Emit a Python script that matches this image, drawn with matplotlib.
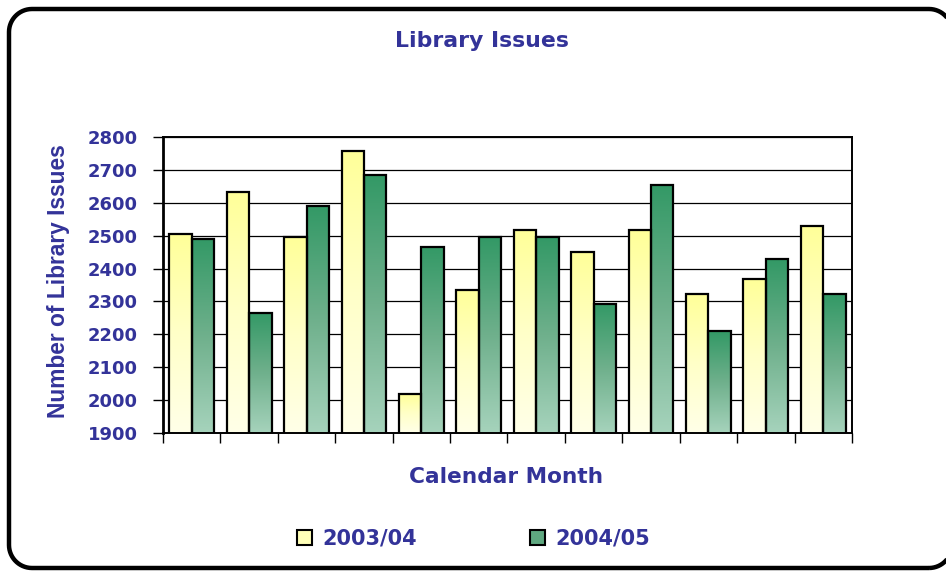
import matplotlib
matplotlib.use("Agg")
import matplotlib.pyplot as plt
import numpy as np
from matplotlib.colors import LinearSegmentedColormap
from matplotlib.patches import Polygon, Patch
from matplotlib.transforms import IdentityTransform

months = ["Apr", "May", "Jun", "Jul", "Aug", "Sep", "Oct", "Nov", "Dec", "Jan", "Feb", "Mar"]
issues_0304 = [2505, 2632, 2495, 2758, 2018, 2336, 2516, 2450, 2516, 2322, 2367, 2528]
issues_0405 = [2490, 2265, 2589, 2683, 2467, 2495, 2495, 2293, 2655, 2209, 2428, 2322]
series_names = ["2003/04", "2004/05"]
yticks = list(range(1900, 2801, 100))

navy = "#333399"
yellow_cm = LinearSegmentedColormap.from_list("yel", ["#FFFFE8", "#FFFFC8", "#FFFF99"])
green_cm = LinearSegmentedColormap.from_list("grn", ["#A6D3BC", "#6FB08C", "#339966"])

fig = plt.figure(figsize=(9.46, 5.72), dpi=100)


def rounded_box(x0, y0, x1, y1, r, n=16):
    # polyline rounded rectangle (pixel coords), straight segments clip cleanly
    pts = []
    corners = [(x1 - r, y0 + r, -90, 0), (x1 - r, y1 - r, 0, 90),
               (x0 + r, y1 - r, 90, 180), (x0 + r, y0 + r, 180, 270)]
    for cx, cy, a0, a1 in corners:
        t = np.radians(np.linspace(a0, a1, n))
        pts += list(zip(cx + r * np.cos(t), cy + r * np.sin(t)))
    return np.array(pts)


# outer frame; the right side runs off the canvas like the original
frame = Polygon(rounded_box(9, 4, 952, 563, 23), closed=True, fill=False, lw=3.2,
                ec="black", transform=IdentityTransform(), joinstyle="round")
fig.add_artist(frame)

ax = fig.add_axes([0.1723, 0.2430, 0.7283, 0.5175])
x = np.arange(len(months))
w = 0.39
ymin, ymax = yticks[0], yticks[-1]

bars1 = ax.bar(x - w / 2, issues_0304, w, facecolor="none", edgecolor="black", lw=1.6, zorder=3)
bars2 = ax.bar(x + w / 2, issues_0405, w, facecolor="none", edgecolor="black", lw=1.6, zorder=3)

grad = np.linspace(0, 1, 256).reshape(-1, 1)
for bars, cm in [(bars1, yellow_cm), (bars2, green_cm)]:
    for b in bars:
        x0 = b.get_x()
        x1 = x0 + b.get_width()
        top = b.get_height()
        im = ax.imshow(grad, extent=[x0, x1, ymin, top], origin="lower", aspect="auto",
                       cmap=cm, zorder=2, interpolation="bilinear")
        im.set_clip_path(b)

ax.set_xlim(-0.5, len(months) - 0.5)
ax.set_ylim(ymin, ymax)
ax.set_yticks(yticks)
ax.set_xticks(np.arange(-0.5, len(months), 1.0))
ax.set_xticklabels([])
ax.tick_params(axis="x", length=7, width=1, direction="out", color="black")
ax.tick_params(axis="y", length=7, width=1, direction="out", pad=11, labelcolor=navy, labelsize=13)
for lab in ax.get_yticklabels():
    lab.set_fontweight("bold")
    lab.set_fontfamily("DejaVu Sans")
ax.set_axisbelow(True)
ax.yaxis.grid(True, color="black", lw=0.9)
for s in ax.spines.values():
    s.set_linewidth(1.4)
ax.spines["left"].set_linewidth(2)

fig.text(0.509, 0.9184, "Library Issues", ha="center", va="baseline", fontsize=15.8,
         fontweight="bold", color=navy, family="DejaVu Sans")
fig.text(0.5354, 0.155, "Calendar Month", ha="center", va="baseline", fontsize=15.6,
         fontweight="bold", color=navy, family="DejaVu Sans")
fig.text(58.5 / 946, 0.508, "Number of Library Issues", ha="center", va="center", rotation=90,
         fontsize=16.4, fontweight="bold", color=navy, family="Liberation Sans")

handles = [Patch(facecolor="#FFFFB8", edgecolor="black", lw=1.5),
           Patch(facecolor="#5FA880", edgecolor="black", lw=1.5)]
fig.legend(handles, series_names, loc="center", bbox_to_anchor=(473.5 / 946, 0.0577), ncol=2,
           frameon=False, handlelength=0.75, handleheight=0.75, handletextpad=0.5,
           columnspacing=5.4, prop={"family": "DejaVu Sans", "weight": "bold", "size": 15},
           labelcolor=navy)

fig.savefig("out.png", dpi=100)
